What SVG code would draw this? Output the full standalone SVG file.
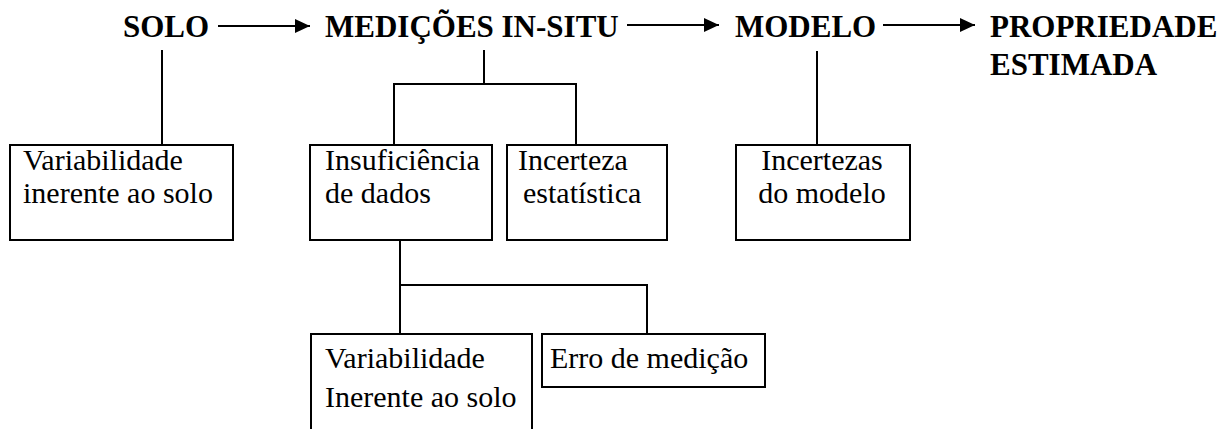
<svg xmlns="http://www.w3.org/2000/svg" width="1230" height="429" viewBox="0 0 1230 429">
<defs>
<style>
.h{font-family:"Liberation Serif","Times New Roman",serif;font-weight:bold;font-size:31px;fill:#000}
.t{font-family:"Liberation Serif","Times New Roman",serif;font-size:30px;fill:#000}
.b{fill:#fff;stroke:#000;stroke-width:2}
.c{fill:none;stroke:#000;stroke-width:2}
</style>
<marker id="ah" markerWidth="16" markerHeight="14" refX="15" refY="7" orient="auto" markerUnits="userSpaceOnUse">
<path d="M0,0 L15,7 L0,14 Z" fill="#000"/>
</marker>
</defs>
<rect width="1230" height="429" fill="#fff"/>
<g id="connectors">
<line class="c" x1="218" y1="26" x2="310" y2="26" marker-end="url(#ah)"/>
<line class="c" x1="627" y1="25" x2="719" y2="25" marker-end="url(#ah)"/>
<line class="c" x1="883" y1="25" x2="975" y2="25" marker-end="url(#ah)"/>
<path class="c" d="M162,50 V145"/>
<path class="c" d="M484,50 V84 M394,145 V84 H576 V145"/>
<path class="c" d="M817,51 V145"/>
<path class="c" d="M400,240 V334 M400,285 H647 V334"/>
</g>
<g id="solo"><text class="h" x="123" y="37">SOLO</text></g>
<g id="medicoes"><text class="h" x="325" y="37">MEDIÇÕES IN-SITU</text></g>
<g id="modelo"><text class="h" x="735" y="37">MODELO</text></g>
<g id="propriedade"><text class="h" x="990" y="37">PROPRIEDADE</text><text class="h" x="990" y="75">ESTIMADA</text></g>
<g id="var1"><rect class="b" x="10" y="145" width="223" height="95"/><text class="t" x="23" y="170">Variabilidade</text><text class="t" x="23" y="203">inerente ao solo</text></g>
<g id="insuf"><rect class="b" x="310" y="145" width="182" height="95"/><text class="t" x="325" y="170">Insuficiência</text><text class="t" x="325" y="203">de dados</text></g>
<g id="incest"><rect class="b" x="507" y="145" width="160" height="95"/><text class="t" x="518" y="170">Incerteza</text><text class="t" x="523" y="203">estatística</text></g>
<g id="incmod"><rect class="b" x="736" y="145" width="174" height="95"/><text class="t" x="822" y="170" text-anchor="middle">Incertezas</text><text class="t" x="822" y="203" text-anchor="middle">do modelo</text></g>
<g id="var2"><rect class="b" x="311" y="334" width="221" height="100"/><text class="t" x="325" y="368">Variabilidade</text><text class="t" x="325" y="407">Inerente ao solo</text></g>
<g id="erro"><rect class="b" x="542" y="334" width="223" height="53"/><text class="t" x="550" y="368">Erro de medição</text></g>
</svg>
